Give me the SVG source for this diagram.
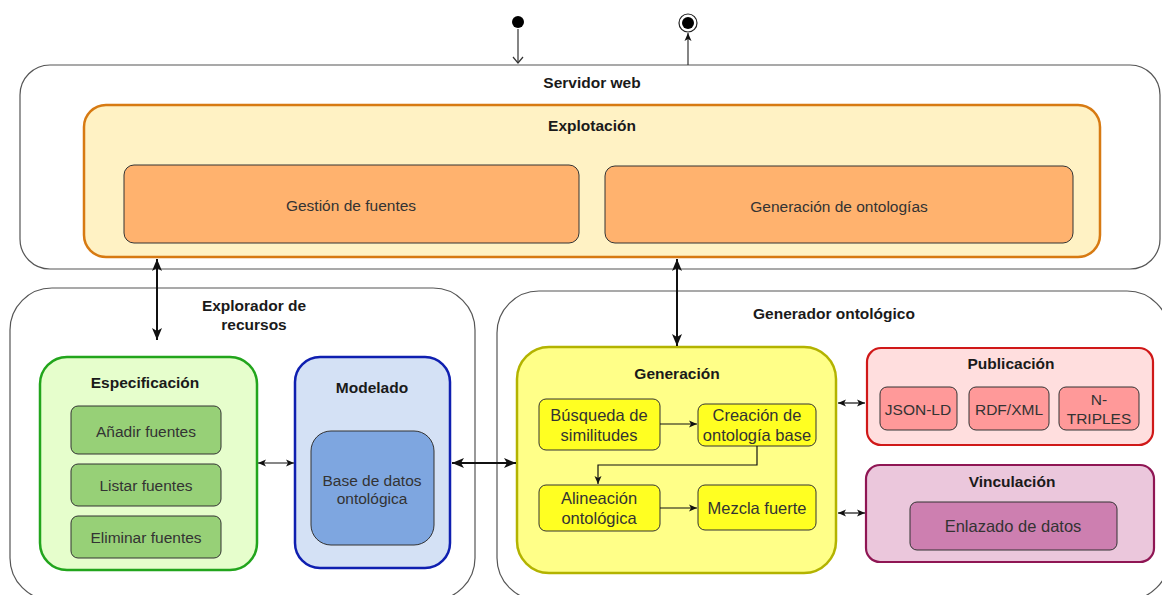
<svg xmlns="http://www.w3.org/2000/svg" width="1162" height="595" viewBox="0 0 1162 595">
<style>
text{font-family:"Liberation Sans",Arial,sans-serif;text-anchor:middle;dominant-baseline:central;fill:#333}
.b{font-weight:bold;font-size:15.5px;fill:#1a1a1a}
.t{font-size:15.5px}
.y{font-size:16.5px;fill:#333}
.outer{fill:#fff;stroke:#555;stroke-width:1.2}
.in{stroke:#333;stroke-width:1}
.c2{fill:none;stroke:#111;stroke-width:2}
.c1{fill:none;stroke:#111;stroke-width:1.2}
</style>
<defs>
<marker id="big" markerUnits="userSpaceOnUse" markerWidth="14" markerHeight="14" viewBox="0 0 14 14" refX="13" refY="7" orient="auto-start-reverse"><path d="M1,2 L13,7 L1,12 L4,7 Z" fill="#111"/></marker>
<marker id="sm" markerUnits="userSpaceOnUse" markerWidth="10" markerHeight="10" viewBox="0 0 10 10" refX="9" refY="5" orient="auto-start-reverse"><path d="M1,1.5 L9,5 L1,8.5 L3,5 Z" fill="#111"/></marker>
<marker id="open" markerUnits="userSpaceOnUse" markerWidth="12" markerHeight="12" viewBox="0 0 12 12" refX="6" refY="10" orient="0"><path d="M1,4 L6,10 L11,4" fill="none" stroke="#333" stroke-width="1.2"/></marker>
</defs>

<g id="servidor-web">
<rect class="outer" x="20" y="65" width="1140" height="204" rx="30"/>
<text class="b" x="592" y="82">Servidor web</text>
</g>
<g id="explotacion">
<rect x="84" y="105" width="1016" height="152" rx="22" fill="#fff2c4" stroke="#d77a12" stroke-width="2.5"/>
<text class="b" x="592" y="125">Explotación</text>
</g>
<g id="gestion-fuentes">
<rect class="in" x="124" y="165" width="455" height="78" rx="10" fill="#ffb26e"/>
<text class="t" x="351" y="205">Gestión de fuentes</text>
</g>
<g id="generacion-ontologias">
<rect class="in" x="605" y="166" width="468" height="77" rx="10" fill="#ffb26e"/>
<text class="t" x="839" y="206">Generación de ontologías</text>
</g>

<g id="start">
<circle cx="518" cy="22" r="6" fill="#000"/>
</g>
<g id="end">
<circle cx="688" cy="23" r="9" fill="#fff" stroke="#222" stroke-width="1.2"/>
<circle cx="688" cy="23" r="6" fill="#000"/>
</g>

<g id="explorador-recursos">
<rect class="outer" x="10" y="288" width="465" height="312" rx="42"/>
<text class="b" x="254" y="305">Explorador de</text>
<text class="b" x="254" y="324">recursos</text>
</g>
<g id="generador-ontologico">
<rect class="outer" x="497" y="291" width="672" height="309" rx="42"/>
<text class="b" x="834" y="313">Generador ontológico</text>
</g>

<g id="especificacion">
<rect x="40" y="357" width="217" height="213" rx="27" fill="#e6fecc" stroke="#22a51c" stroke-width="2.5"/>
<text class="b" x="145" y="382">Especificación</text>
</g>
<g id="anadir-fuentes">
<rect class="in" x="71" y="406" width="150" height="48" rx="7" fill="#97d077"/>
<text class="t" x="146" y="431">Añadir fuentes</text>
</g>
<g id="listar-fuentes">
<rect class="in" x="71" y="464" width="150" height="42" rx="7" fill="#97d077"/>
<text class="t" x="146" y="485">Listar fuentes</text>
</g>
<g id="eliminar-fuentes">
<rect class="in" x="71" y="516" width="150" height="42" rx="7" fill="#97d077"/>
<text class="t" x="146" y="537">Eliminar fuentes</text>
</g>

<g id="modelado">
<rect x="295" y="357" width="155" height="211" rx="25" fill="#d4e1f5" stroke="#0f1fb0" stroke-width="2.5"/>
<text class="b" x="372" y="387">Modelado</text>
</g>
<g id="base-datos">
<rect class="in" x="311" y="431" width="123" height="114" rx="20" fill="#7ea6e0"/>
<text class="t" x="372" y="480">Base de datos</text>
<text class="t" x="372" y="498">ontológica</text>
</g>

<g id="generacion">
<rect x="517" y="347" width="319" height="226" rx="32" fill="#ffff88" stroke="#b3b300" stroke-width="2.5"/>
<text class="b" x="677" y="373">Generación</text>
</g>
<g id="busqueda">
<rect class="in" x="539" y="399" width="121" height="51" rx="7" fill="#ffff22"/>
<text class="y" x="599" y="415">Búsqueda de</text>
<text class="y" x="599" y="435">similitudes</text>
</g>
<g id="creacion">
<rect class="in" x="698" y="404" width="118" height="42" rx="7" fill="#ffff22"/>
<text class="y" x="757" y="415">Creación de</text>
<text class="y" x="757" y="435">ontología base</text>
</g>
<g id="alineacion">
<rect class="in" x="539" y="485" width="121" height="46" rx="7" fill="#ffff22"/>
<text class="y" x="599" y="498">Alineación</text>
<text class="y" x="599" y="518">ontológica</text>
</g>
<g id="mezcla">
<rect class="in" x="698" y="485" width="118" height="45" rx="7" fill="#ffff22"/>
<text class="y" x="757" y="508">Mezcla fuerte</text>
</g>

<g id="publicacion">
<rect x="867" y="348" width="286" height="97" rx="14" fill="#ffdede" stroke="#d01818" stroke-width="2.2"/>
<text class="b" x="1011" y="363">Publicación</text>
</g>
<g id="json-ld">
<rect class="in" x="880" y="387" width="77" height="43" rx="7" fill="#ff9999"/>
<text class="t" x="918" y="409">JSON-LD</text>
</g>
<g id="rdf-xml">
<rect class="in" x="969" y="387" width="80" height="43" rx="7" fill="#ff9999"/>
<text class="t" x="1009" y="409">RDF/XML</text>
</g>
<g id="n-triples">
<rect class="in" x="1059" y="387" width="80" height="43" rx="7" fill="#ff9999"/>
<text class="t" x="1099" y="399">N-</text>
<text class="t" x="1099" y="418">TRIPLES</text>
</g>

<g id="vinculacion">
<rect x="866" y="465" width="288" height="97" rx="14" fill="#ebc7dc" stroke="#8f1654" stroke-width="2.2"/>
<text class="b" x="1012" y="481">Vinculación</text>
</g>
<g id="enlazado">
<rect class="in" x="910" y="502" width="207" height="48" rx="7" fill="#cd7fb0"/>
<text class="y" x="1013" y="526">Enlazado de datos</text>
</g>

<g id="connectors">
<line x1="518" y1="29" x2="518" y2="63" stroke="#333" stroke-width="1.2" marker-end="url(#open)"/>
<line x1="688" y1="65" x2="688" y2="33" stroke="#333" stroke-width="1.2" marker-end="url(#sm)"/>
<line class="c2" x1="157" y1="259" x2="157" y2="340" marker-start="url(#big)" marker-end="url(#big)"/>
<line class="c2" x1="677" y1="259" x2="677" y2="346" marker-start="url(#big)" marker-end="url(#big)"/>
<line class="c1" x1="258" y1="463" x2="294" y2="463" marker-start="url(#sm)" marker-end="url(#sm)"/>
<line class="c2" x1="452" y1="463" x2="516" y2="463" marker-start="url(#big)" marker-end="url(#big)"/>
<line class="c1" x1="838" y1="403" x2="865" y2="403" marker-start="url(#sm)" marker-end="url(#sm)"/>
<line class="c1" x1="838" y1="513" x2="865" y2="513" marker-start="url(#sm)" marker-end="url(#sm)"/>
<line class="c1" x1="660" y1="424" x2="697" y2="424" marker-end="url(#sm)"/>
<polyline class="c1" points="757,446 757,465 598,465 598,484" marker-end="url(#sm)"/>
<line class="c1" x1="660" y1="508" x2="697" y2="508" marker-end="url(#sm)"/>
</g>
</svg>
